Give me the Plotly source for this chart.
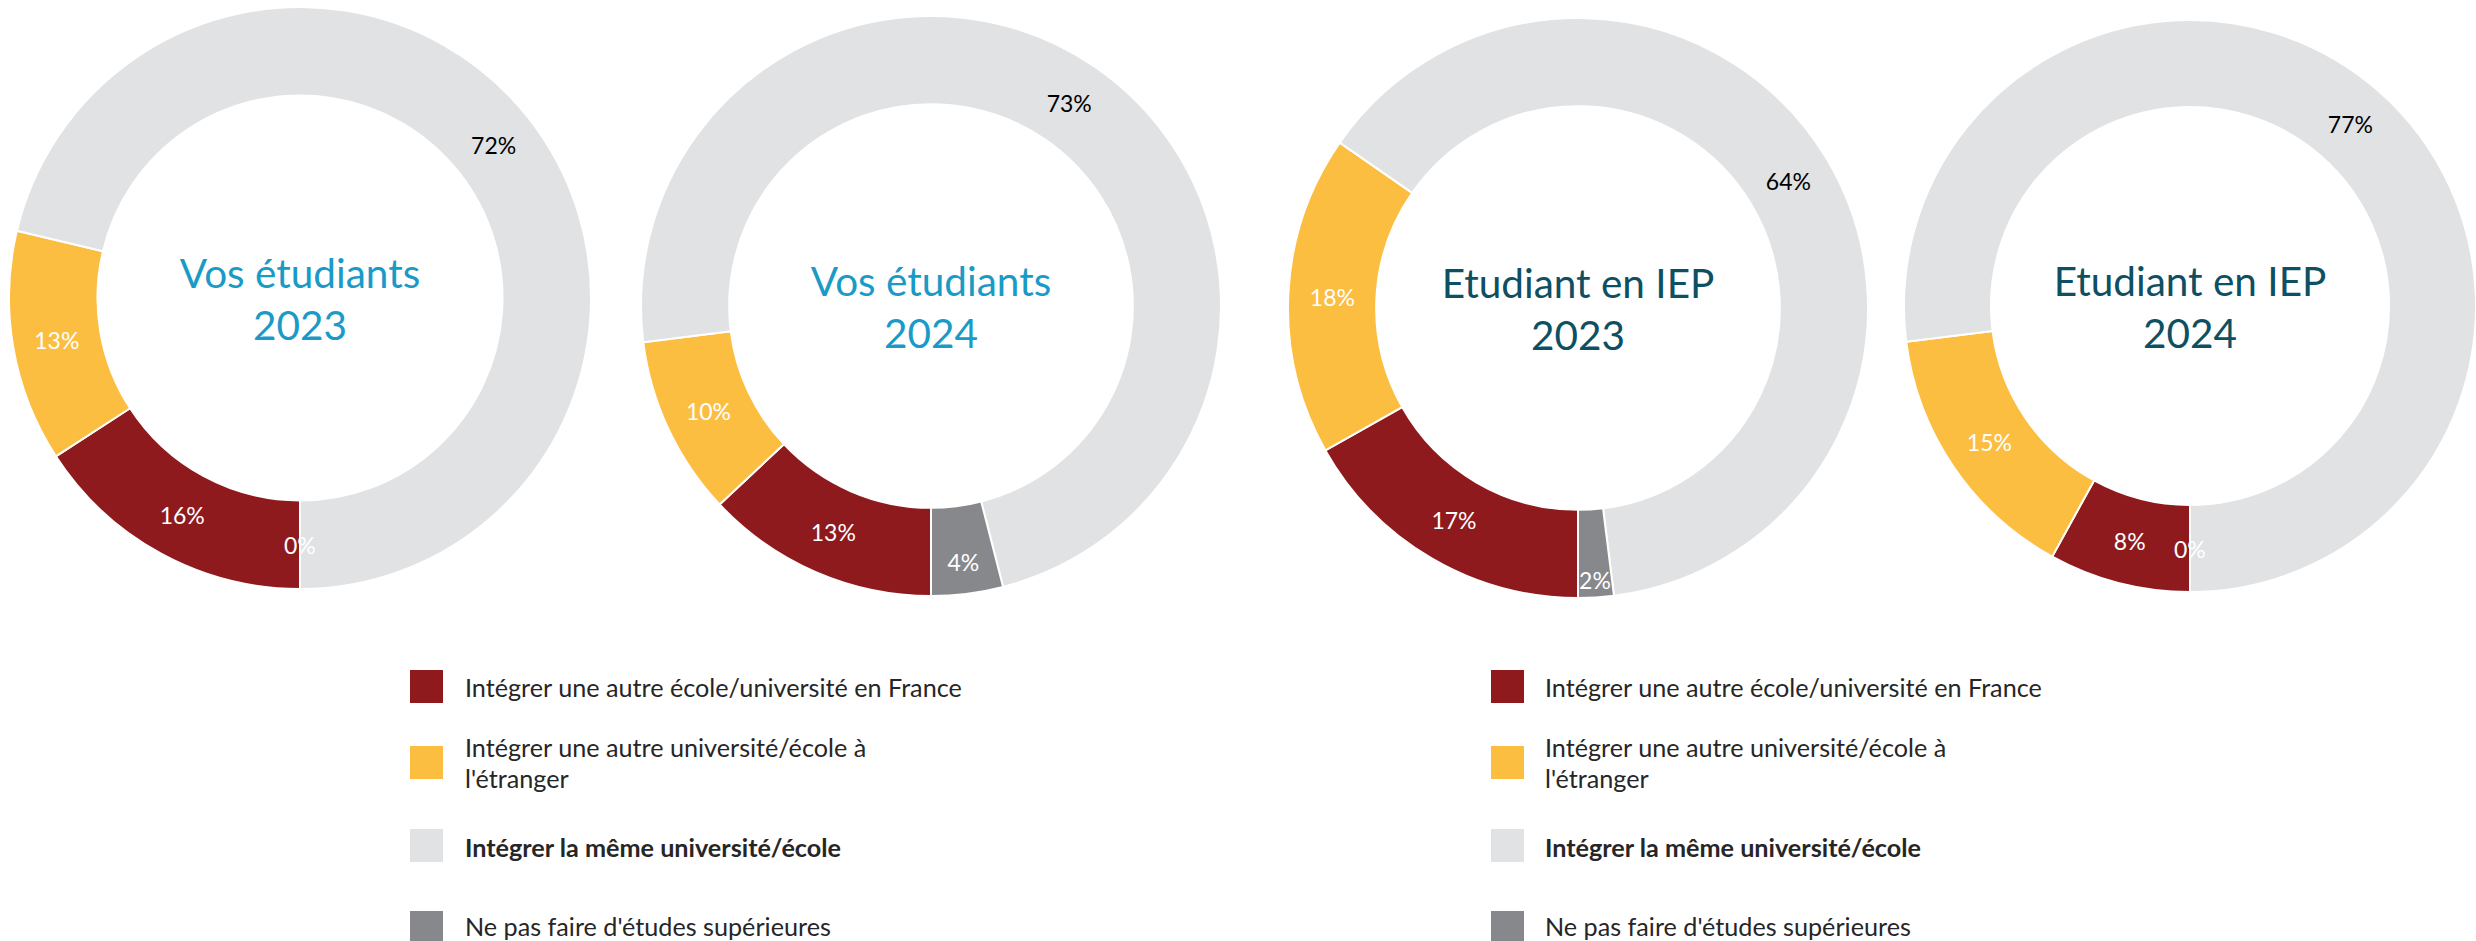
import math
import plotly.graph_objects as go

W, H = 2476, 941

# Categories (slice order, clockwise from 6 o'clock)
categories = [
    "Intégrer une autre école/université en France",
    "Intégrer une autre université/école à<br>l'étranger",
    "<b>Intégrer la même université/école</b>",
    "Ne pas faire d'études supérieures",
]
colors = ["#8F1A1E", "#FCBE41", "#E1E2E4", "#86888B"]
label_colors = ["white", "white", "black", "white"]

# Percentages per group
vos_2023 = [16, 13, 72, 0]
vos_2024 = [13, 10, 73, 4]
iep_2023 = [17, 18, 64, 2]
iep_2024 = [8, 15, 77, 0]

titles = ["Vos étudiants<br>2023", "Vos étudiants<br>2024",
          "Etudiant en IEP<br>2023", "Etudiant en IEP<br>2024"]
title_colors = ["#1A9AC6", "#1A9AC6", "#0D4F63", "#0D4F63"]
series = [vos_2023, vos_2024, iep_2023, iep_2024]

# Donut boxes in pixels: (x0, x1, y0_top, y1_bottom)
boxes = [(9, 591, 7, 589), (641, 1221, 16, 596),
         (1288, 1868, 18, 598), (1904, 2476, 20, 592)]
HOLE = 0.696
ROTATION = 180

FONT = "Lato, Open Sans, sans-serif"
LABEL_SIZE = 23


def px(x):
    return x / W


def py(y):
    return 1 - y / H


fig = go.Figure()
annotations = []

for vals, title, tcol, (x0, x1, y0, y1) in zip(series, titles, title_colors, boxes):
    fig.add_trace(go.Pie(
        labels=categories,
        values=vals,
        sort=False,
        direction="clockwise",
        rotation=ROTATION,
        hole=HOLE,
        marker=dict(colors=colors, line=dict(color="white", width=2)),
        # zero-size slices cannot carry inside text; they are labelled below
        texttemplate=["%{value}%" if v else "" for v in vals],
        textposition="inside",
        insidetextorientation="horizontal",
        textfont=dict(family=FONT, size=LABEL_SIZE, color=label_colors),
        title=dict(text=title, position="middle center",
                   font=dict(family=FONT, size=40.5, color=tcol)),
        domain=dict(x=[px(x0), px(x1)], y=[py(y1), py(y0)]),
        showlegend=False,
        hoverinfo="label+value",
    ))
    # Empty slices get their label drawn on the ring at the slice angle
    total = sum(vals)
    cx, cy = (x0 + x1) / 2, (y0 + y1) / 2
    r = min(x1 - x0, y1 - y0) / 2
    rm = r * (1 + HOLE) / 2
    cum = 0
    for v, lc in zip(vals, label_colors):
        if v == 0:
            theta = math.radians(ROTATION + 360 * cum / total)
            annotations.append(dict(
                x=px(cx + rm * math.sin(theta)), y=py(cy - rm * math.cos(theta)),
                xref="paper", yref="paper", showarrow=False,
                text=f"{v}%", font=dict(family=FONT, size=LABEL_SIZE, color=lc),
                xanchor="center", yanchor="middle"))
        cum += v

# Legends below each pair of donuts
SQ = 33
LINE_GAP = 31
square_rows = [686.5, 762.5, 845.5, 927.5]
text_rows = [687, 762.5, 847, 926]
for sq_x, tx in [(410, 463), (1491, 1543)]:
    for cat, col, ry, ty in zip(categories, colors, square_rows, text_rows):
        fig.add_shape(type="rect", xref="paper", yref="paper",
                      x0=px(sq_x), x1=px(sq_x + SQ),
                      y0=py(ry + SQ / 2), y1=py(ry - SQ / 2),
                      fillcolor=col, line=dict(width=0))
        lines = cat.split("<br>")
        first = ty - LINE_GAP * (len(lines) - 1) / 2
        for i, line in enumerate(lines):
            annotations.append(dict(
                x=px(tx), y=py(first + i * LINE_GAP), xref="paper", yref="paper",
                showarrow=False, text=line, align="left",
                xanchor="left", yanchor="middle",
                font=dict(family=FONT, size=25.2, color="#262626")))

fig.update_layout(
    width=W, height=H,
    margin=dict(l=0, r=0, t=0, b=0),
    paper_bgcolor="white", plot_bgcolor="white",
    uniformtext=dict(mode="show", minsize=LABEL_SIZE),
    annotations=annotations,
)

fig.write_html("out.html")
